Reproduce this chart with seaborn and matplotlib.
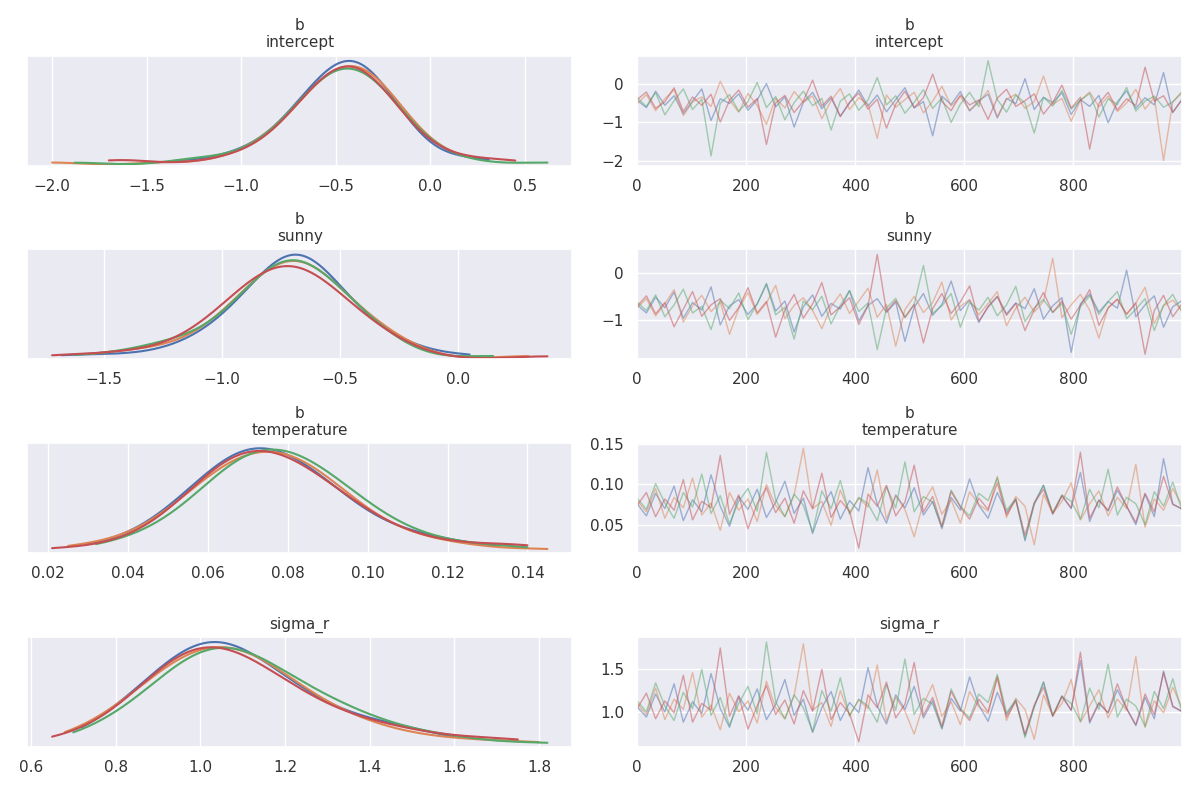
# ===========================================================================
# plot.py: Trace plot (density + draws) for four model parameters.
# ===========================================================================

import numpy as np
import matplotlib
matplotlib.use("Agg")
import matplotlib.pyplot as plt
import seaborn as sns; sns.set()

plt.rcParams['text.color'] = '#333333'
plt.rcParams['xtick.color'] = '#333333'
plt.rcParams['ytick.color'] = '#333333'

# Parameter titles ...

titles = ["b\nintercept", "b\nsunny", "b\ntemperature", "sigma_r"]

# Draws per chain (four chains) ...

intercept = [
    [-0.42,-0.61,-0.18,-0.55,-0.30,-0.77,-0.44,-0.12,-0.95,-0.38,-0.50,-0.25,-0.68,-0.41,0.02,-0.59,-0.33,-1.12,-0.47,-0.21,-0.64,-0.36,-0.83,-0.49,-0.15,-0.57,-0.28,-0.72,-0.40,-0.09,-0.62,-0.45,-1.35,-0.31,-0.53,-0.19,-0.70,-0.43,-0.26,-0.88,-0.37,-0.51,0.15,-0.66,-0.34,-0.48,-0.22,-0.79,-0.40,-0.58,-0.29,-1.01,-0.46,-0.17,-0.63,-0.35,-0.54,0.31,-0.74,-0.39],
    [-0.51,-0.27,-0.69,-0.38,-0.14,-0.82,-0.46,-0.33,-0.58,0.08,-0.41,-0.73,-0.24,-0.55,-1.05,-0.36,-0.62,-0.19,-0.47,-0.30,-0.90,-0.43,-0.11,-0.66,-0.35,-0.52,-1.42,-0.28,-0.60,-0.40,-0.21,-0.75,-0.44,-0.05,-0.57,-0.32,-0.68,-0.48,-0.16,-0.85,-0.39,-0.26,-0.63,-0.45,0.22,-0.53,-0.37,-0.97,-0.42,-0.20,-0.59,-0.31,-0.71,-0.49,-0.13,-0.65,-0.34,-2.00,-0.46,-0.23],
    [-0.35,-0.58,-0.22,-0.80,-0.43,-0.12,-0.66,-0.39,-1.88,-0.50,-0.27,-0.71,-0.45,0.05,-0.61,-0.32,-0.93,-0.48,-0.18,-0.56,-0.37,-1.20,-0.44,-0.25,-0.68,-0.41,0.18,-0.54,-0.30,-0.76,-0.47,-0.14,-0.63,-0.36,-1.00,-0.52,-0.21,-0.59,0.62,-0.40,-0.73,-0.28,-0.49,-1.28,-0.34,-0.57,-0.16,-0.65,-0.42,-0.24,-0.86,-0.38,-0.53,-0.08,-0.70,-0.44,-0.31,-0.60,-0.46,-0.19],
    [-0.40,-0.20,-0.63,-0.46,-0.09,-0.71,-0.33,-0.55,-0.26,-0.99,-0.42,-0.15,-0.60,-0.37,-1.58,-0.49,-0.29,-0.74,-0.44,0.11,-0.57,-0.31,-0.85,-0.47,-0.23,-0.65,-0.39,-1.15,-0.52,-0.18,-0.61,-0.35,0.27,-0.45,-0.69,-0.28,-0.54,-0.41,-0.92,-0.36,-0.13,-0.58,-0.43,-0.25,-0.78,-0.48,-0.02,-0.62,-0.34,-1.70,-0.50,-0.21,-0.67,-0.38,-0.56,0.45,-0.44,-0.30,-0.73,-0.41],
]

sunny = [
    [-0.68,-0.85,-0.52,-0.74,-0.41,-0.96,-0.63,-0.79,-0.30,-1.10,-0.70,-0.57,-0.88,-0.66,-0.23,-0.81,-0.60,-1.25,-0.72,-0.47,-0.92,-0.65,-0.77,-0.38,-1.02,-0.69,-0.55,-0.84,-0.62,-1.45,-0.73,-0.44,-0.90,-0.67,-0.18,-0.80,-0.58,-1.05,-0.71,-0.50,-0.87,-0.64,-0.76,-0.34,-0.98,-0.70,-0.53,-1.68,-0.66,-0.45,-0.83,-0.61,-0.75,0.05,-0.93,-0.68,-0.49,-1.15,-0.72,-0.59],
    [-0.74,-0.55,-0.91,-0.66,-0.36,-1.04,-0.70,-0.48,-0.82,-0.62,-1.30,-0.76,-0.42,-0.88,-0.64,-0.27,-0.97,-0.69,-0.53,-0.80,-1.18,-0.72,-0.45,-0.86,-0.60,-0.33,-0.94,-0.67,-1.55,-0.78,-0.50,-0.84,-0.63,-0.20,-1.00,-0.71,-0.57,-0.89,-0.65,-0.40,-1.12,-0.75,-0.52,-0.83,-0.61,0.30,-0.95,-0.68,-0.46,-0.79,-1.38,-0.73,-0.56,-0.87,-0.64,-0.31,-1.07,-0.70,-0.58,-0.81],
    [-0.62,-0.80,-0.47,-0.93,-0.68,-0.35,-0.85,-0.71,-1.20,-0.58,-0.76,-0.43,-0.99,-0.66,-0.25,-0.89,-0.73,-1.40,-0.60,-0.78,-0.50,-1.08,-0.69,-0.38,-0.82,-0.64,-1.62,-0.75,-0.54,-0.95,-0.67,0.15,-0.86,-0.70,-0.44,-1.15,-0.63,-0.79,-0.52,-0.91,-0.68,-0.29,-1.03,-0.74,-0.57,-0.84,-0.65,-1.30,-0.72,-0.49,-0.88,-0.61,-0.40,-0.97,-0.77,-0.55,-1.22,-0.69,-0.46,-0.83],
    [-0.71,-0.49,-0.87,-0.63,-1.14,-0.77,-0.40,-0.92,-0.68,-0.55,-1.01,-0.74,-0.32,-0.85,-0.61,-1.36,-0.79,-0.46,-0.96,-0.66,-0.21,-0.89,-0.72,-0.53,-1.09,-0.70,0.38,-0.82,-0.59,-0.94,-0.67,-1.48,-0.76,-0.44,-0.86,-0.62,-0.28,-1.02,-0.73,-0.51,-0.90,-0.65,-1.22,-0.78,-0.42,-0.84,-0.60,-0.98,-0.69,-0.36,-1.11,-0.75,-0.56,-0.88,-0.64,-1.72,-0.80,-0.48,-0.93,-0.66],
]

temperature = [
    [0.076,0.061,0.089,0.070,0.098,0.055,0.081,0.066,0.112,0.073,0.048,0.085,0.069,0.094,0.059,0.078,0.104,0.064,0.083,0.039,0.072,0.091,0.057,0.080,0.067,0.121,0.075,0.052,0.087,0.071,0.096,0.062,0.079,0.045,0.084,0.068,0.107,0.074,0.058,0.090,0.065,0.082,0.030,0.077,0.099,0.063,0.086,0.070,0.115,0.054,0.081,0.067,0.093,0.073,0.050,0.088,0.060,0.132,0.076,0.069],
    [0.080,0.066,0.095,0.058,0.084,0.071,0.108,0.062,0.077,0.043,0.090,0.068,0.082,0.054,0.100,0.074,0.060,0.087,0.145,0.070,0.079,0.049,0.093,0.065,0.083,0.072,0.118,0.057,0.086,0.069,0.035,0.078,0.097,0.063,0.081,0.052,0.091,0.075,0.067,0.110,0.059,0.085,0.073,0.025,0.088,0.064,0.079,0.102,0.056,0.076,0.092,0.061,0.084,0.070,0.125,0.047,0.082,0.068,0.095,0.074],
    [0.083,0.069,0.101,0.077,0.058,0.090,0.072,0.113,0.064,0.086,0.051,0.079,0.095,0.067,0.140,0.081,0.060,0.088,0.074,0.041,0.092,0.070,0.105,0.063,0.084,0.076,0.055,0.097,0.071,0.128,0.066,0.085,0.078,0.047,0.093,0.073,0.061,0.089,0.080,0.108,0.068,0.082,0.032,0.075,0.099,0.065,0.087,0.079,0.057,0.094,0.071,0.119,0.062,0.084,0.076,0.050,0.091,0.073,0.103,0.068],
    [0.074,0.090,0.060,0.082,0.068,0.106,0.056,0.079,0.071,0.136,0.063,0.087,0.045,0.076,0.096,0.065,0.083,0.052,0.092,0.070,0.114,0.059,0.080,0.067,0.021,0.088,0.073,0.099,0.061,0.078,0.124,0.066,0.085,0.048,0.091,0.072,0.057,0.083,0.069,0.102,0.062,0.081,0.037,0.077,0.094,0.064,0.086,0.071,0.140,0.058,0.080,0.068,0.097,0.073,0.053,0.089,0.066,0.110,0.075,0.070],
]

sigma_r = [
    [1.06,0.94,1.21,1.00,1.33,0.88,1.12,0.98,1.45,1.04,0.82,1.18,1.02,1.27,0.91,1.09,1.38,0.96,1.15,0.76,1.05,1.24,0.90,1.11,0.99,1.52,1.07,0.86,1.20,1.03,1.30,0.93,1.13,0.80,1.16,1.01,1.41,1.08,0.89,1.23,0.97,1.14,0.72,1.06,1.35,0.95,1.19,1.02,1.60,0.87,1.10,0.99,1.26,1.04,0.84,1.17,0.92,1.48,1.07,1.00],
    [1.10,0.97,1.28,0.91,1.15,1.03,1.46,0.94,1.08,0.79,1.22,1.00,1.13,0.87,1.36,1.05,0.92,1.19,1.80,1.02,1.11,0.83,1.25,0.96,1.14,1.04,1.55,0.89,1.17,1.01,0.74,1.09,1.32,0.95,1.12,0.85,1.24,1.06,0.98,1.42,0.90,1.16,1.03,0.68,1.20,0.96,1.10,1.38,0.88,1.07,1.26,0.93,1.15,1.02,1.65,0.82,1.13,0.99,1.29,1.05],
    [1.13,1.00,1.34,1.07,0.90,1.23,1.04,1.50,0.96,1.17,0.84,1.10,1.30,0.98,1.82,1.12,0.92,1.20,1.05,0.77,1.25,1.01,1.40,0.95,1.15,1.07,0.88,1.32,1.02,1.62,0.97,1.16,1.09,0.81,1.27,1.04,0.93,1.21,1.11,1.44,0.99,1.14,0.70,1.06,1.35,0.96,1.18,1.10,0.89,1.28,1.03,1.56,0.94,1.15,1.07,0.83,1.24,1.04,1.39,0.99],
    [1.04,1.22,0.92,1.13,0.99,1.43,0.88,1.10,1.02,1.75,0.95,1.19,0.80,1.07,1.31,0.97,1.14,0.86,1.25,1.01,1.50,0.91,1.11,0.98,0.65,1.20,1.05,1.35,0.93,1.09,1.58,0.96,1.17,0.83,1.24,1.03,0.90,1.15,1.00,1.40,0.94,1.12,0.74,1.08,1.29,0.95,1.18,1.02,1.70,0.89,1.11,0.99,1.33,1.04,0.85,1.21,0.97,1.46,1.06,1.01],
]

# Main method ...

def main():
    print("--- Build trace plot ... ");

    params = [intercept, sunny, temperature, sigma_r]
    colors = sns.color_palette("deep")

    plt.figure(figsize=(12, 7.93), dpi=100)

    for i, (title, chains) in enumerate(zip(titles, params)):

        # Left column: density of each chain ...

        plt.subplot(4, 2, 2*i + 1)
        for k, draws in enumerate(chains):
            sns.kdeplot(x=draws, ax=plt.gca(), color=colors[k], cut=0, bw_adjust=1.1, linewidth=1.5)
        plt.title(title, fontsize=11)
        plt.ylabel('')
        plt.yticks([])

        # Right column: draws of each chain ...

        plt.subplot(4, 2, 2*i + 2)
        for k, draws in enumerate(chains):
            steps = np.linspace(0, 999, len(draws))
            sns.lineplot(x=steps, y=draws, ax=plt.gca(), color=colors[k], alpha=0.5, linewidth=1)
        plt.xlim(0, 999)
        plt.xticks([0, 200, 400, 600, 800])
        plt.title(title, fontsize=11)

    plt.tight_layout()
    plt.savefig("out.png")

# call the main method ...

main()
